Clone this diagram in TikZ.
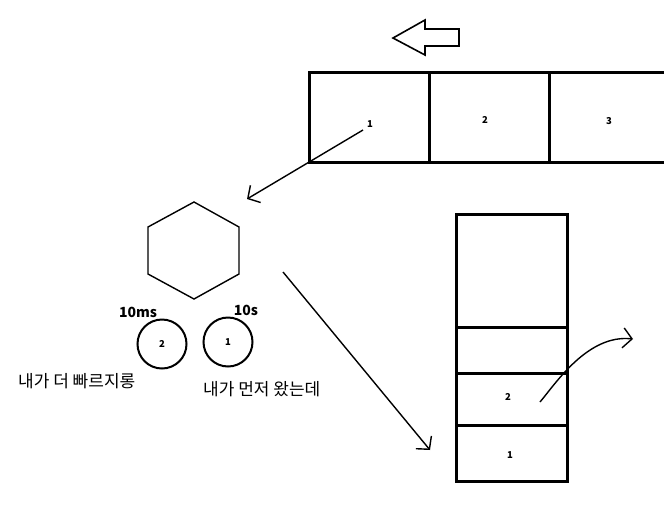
\documentclass[tikz,border=0pt]{standalone}
\usepackage{fontspec}
\setmainfont{Noto Sans CJK KR}
\usetikzlibrary{arrows.meta}

\tikzset{
  cell/.style={draw, line width=3pt, inner sep=0pt},
  num/.style={font=\bfseries\fontsize{9.5}{11}\selectfont},
  proc/.style={draw, circle, line width=2pt, minimum size=49pt, inner sep=0pt, font=\bfseries\fontsize{9.5}{11}\selectfont},
  tag/.style={font=\bfseries\fontsize{14}{16}\selectfont},
  say/.style={font=\fontsize{17}{19}\selectfont, anchor=west, inner sep=0pt},
  hand/.style={line width=1.4pt, -{Straight Barb[length=9pt, width=20pt, line width=1.4pt]}},
}

\begin{document}
\begin{tikzpicture}[x=1pt, y=-1pt]
\useasboundingbox (0,0) rectangle (664,504);

% Hollow arrow pointing left
\draw[line width=1.6pt, line join=miter] (393,38) -- (425,20) -- (425,29) -- (459,29) -- (459,46)
  -- (425,46) -- (425,55) -- cycle;

% Top queue
\node[cell, minimum width=120pt, minimum height=90pt] (t1) at (369,117) {};
\node[cell, minimum width=120pt, minimum height=90pt] (t2) at (489,117) {};
\node[cell, minimum width=120pt, minimum height=90pt] (t3) at (609,117) {};
\node[num] (t1n) at (370,124) {1};
\node[num] (t2n) at (485,120) {2};
\node[num] (t3n) at (609,121) {3};

% Hexagon (CPU)
\draw[line width=1.4pt] (194,202) -- (239,227) -- (239,274) -- (194,299) -- (148,274) -- (148,227) -- cycle;

% Processes
\node[proc] (p2) at (162,344) {2};
\node[proc] (p1) at (228,342) {1};
\node[tag] (p2t) at (138,312) {10ms};
\node[tag] (p1t) at (246,310) {10s};
\node[say] (p2s) at (18,381) {내가 더 빠르지롱};
\node[say] (p1s) at (203,389) {내가 먼저 왔는데};

% Right queue
\node[cell, minimum width=111pt, minimum height=113pt] (r4) at (511.5,270.5) {};
\node[cell, minimum width=111pt, minimum height=46pt] (r3) at (511.5,350) {};
\node[cell, minimum width=111pt, minimum height=52pt] (r2) at (511.5,399) {};
\node[cell, minimum width=111pt, minimum height=56pt] (r1) at (511.5,453) {};
\node[num] (r2n) at (508,397) {2};
\node[num] (r1n) at (510,455) {1};

% Arrows
\coordinate (a1s) at (363,130);
\coordinate (a1e) at (247,199);
\draw[hand] (a1s) -- (a1e);
\coordinate (a2s) at (283,272);
\coordinate (a2e) at (430,450);
\draw[hand] (a2s) -- (a2e);
\coordinate (a3s) at (540,402);
\coordinate (a3e) at (633,339);
\draw[hand] (a3s) .. controls (556,383) and (588,334) .. (a3e);
\end{tikzpicture}
\end{document}
